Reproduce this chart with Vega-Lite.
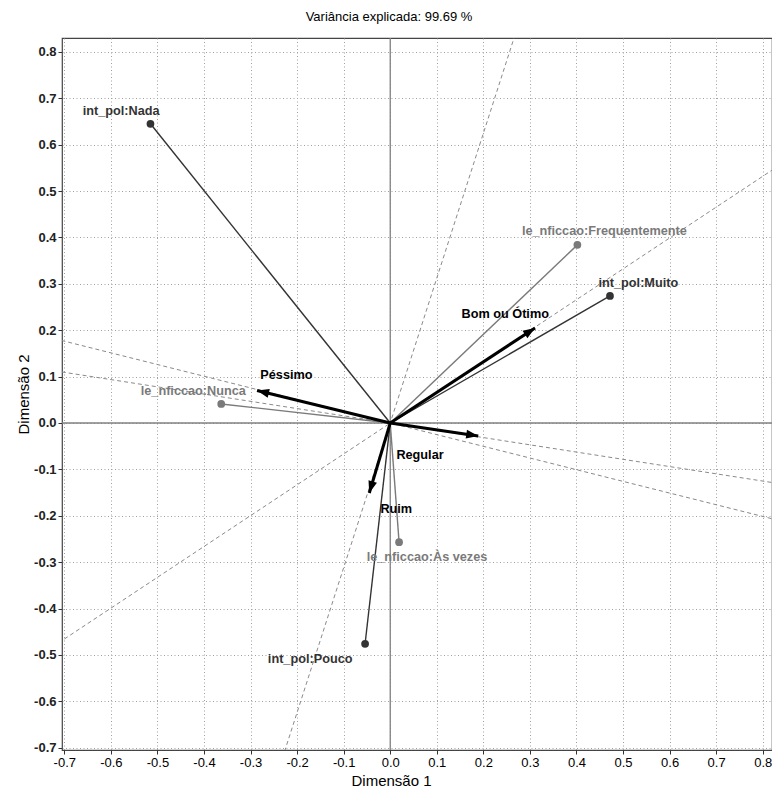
{
  "$schema": "https://vega.github.io/schema/vega-lite/v6.json",
  "width": 710,
  "height": 712,
  "autosize": {"type": "none"},
  "padding": {"left": 62, "top": 38, "right": 0, "bottom": 43},
  "background": "white",
  "title": {"text": "Variância explicada: 99.69 %", "fontSize": 13, "font": "Liberation Sans", "fontWeight": "normal", "color": "#000", "anchor": "middle", "dx": -28, "offset": 14},
  "config": {"view": {"stroke": "#444", "strokeWidth": 1.2}},
  "datasets": {
    "vars": [
      {"name": "int_pol:Nada", "group": "int_pol", "x": -0.515, "y": 0.645},
      {"name": "int_pol:Muito", "group": "int_pol", "x": 0.472, "y": 0.274},
      {"name": "int_pol:Pouco", "group": "int_pol", "x": -0.054, "y": -0.476},
      {"name": "le_nficcao:Frequentemente", "group": "le_nficcao", "x": 0.402, "y": 0.384},
      {"name": "le_nficcao:Nunca", "group": "le_nficcao", "x": -0.363, "y": 0.041},
      {"name": "le_nficcao:Às vezes", "group": "le_nficcao", "x": 0.019, "y": -0.257}
    ],
    "cats": [
      {"name": "Bom ou Ótimo", "x": 0.311, "y": 0.205},
      {"name": "Péssimo", "x": -0.286, "y": 0.070},
      {"name": "Regular", "x": 0.189, "y": -0.028},
      {"name": "Ruim", "x": -0.045, "y": -0.151}
    ],
    "labels": [
      {"text": "int_pol:Nada", "kind": "int_pol", "x": -0.578, "y": 0.673},
      {"text": "le_nficcao:Frequentemente", "kind": "le_nficcao", "x": 0.46, "y": 0.414},
      {"text": "int_pol:Muito", "kind": "int_pol", "x": 0.533, "y": 0.302},
      {"text": "le_nficcao:Nunca", "kind": "le_nficcao", "x": -0.423, "y": 0.069},
      {"text": "le_nficcao:Às vezes", "kind": "le_nficcao", "x": 0.079, "y": -0.289},
      {"text": "int_pol:Pouco", "kind": "int_pol", "x": -0.172, "y": -0.509},
      {"text": "Péssimo", "kind": "cat", "x": -0.223, "y": 0.103},
      {"text": "Bom ou Ótimo", "kind": "cat", "x": 0.247, "y": 0.235},
      {"text": "Regular", "kind": "cat", "x": 0.064, "y": -0.069},
      {"text": "Ruim", "kind": "cat", "x": 0.013, "y": -0.185}
    ],
    "dashes": [
      {"x": -0.25, "y": -0.78, "xe": 0.28, "ye": 0.874},
      {"x": -0.75, "y": -0.499, "xe": 0.85, "ye": 0.565},
      {"x": -0.75, "y": 0.189, "xe": 0.85, "ye": -0.214},
      {"x": -0.75, "y": 0.117, "xe": 0.85, "ye": -0.133}
    ],
    "zeros": [
      {"x": -0.8, "y": 0, "xe": 0.9, "ye": 0},
      {"x": 0, "y": -0.8, "xe": 0, "ye": 0.9}
    ]
  },
  "encoding": {
    "x": {"field": "x", "type": "quantitative", "scale": {"domain": [-0.705, 0.82], "nice": false, "zero": false},
      "axis": {"values": [-0.7, -0.6, -0.5, -0.4, -0.3, -0.2, -0.1, 0, 0.1, 0.2, 0.3, 0.4, 0.5, 0.6, 0.7, 0.8], "labelExpr": "replace(format(datum.value, '.1f'), '\u2212', '-')", "title": "Dimensão 1",
        "titleFontSize": 15, "titleFontWeight": "normal", "titleFont": "Liberation Sans", "titleColor": "#000", "titleX": 329, "titleAlign": "center", "titlePadding": 4,
        "labelFont": "Liberation Sans", "labelFontSize": 13, "labelColor": "#000", "labelFlush": false, "labelOverlap": false, "labelPadding": 2,
        "tickColor": "#333", "tickSize": 4, "domain": false, "grid": true, "gridDash": [1, 2.5], "gridColor": "#a0a0a0", "gridWidth": 1}},
    "y": {"field": "y", "type": "quantitative", "scale": {"domain": [-0.705, 0.83], "nice": false, "zero": false},
      "axis": {"values": [-0.7, -0.6, -0.5, -0.4, -0.3, -0.2, -0.1, 0, 0.1, 0.2, 0.3, 0.4, 0.5, 0.6, 0.7, 0.8], "labelExpr": "replace(format(datum.value, '.1f'), '\u2212', '-')", "title": "Dimensão 2",
        "titleFontSize": 15, "titleFontWeight": "normal", "titleFont": "Liberation Sans", "titleColor": "#000", "titlePadding": 2,
        "labelFont": "Liberation Sans", "labelFontSize": 13, "labelFontWeight": "bold", "labelColor": "#222", "labelFlush": false, "labelOverlap": false, "labelPadding": 2,
        "tickColor": "#333", "tickSize": 4, "domain": false, "grid": true, "gridDash": [1, 2.5], "gridColor": "#a0a0a0", "gridWidth": 1}}
  },
  "layer": [
    {
      "data": {"name": "dashes"},
      "mark": {"type": "rule", "clip": true, "color": "#8a8a8a", "strokeDash": [4, 3], "strokeWidth": 1},
      "encoding": {"x2": {"field": "xe"}, "y2": {"field": "ye"}}
    },
    {
      "data": {"name": "zeros"},
      "mark": {"type": "rule", "clip": true, "color": "#808080", "strokeWidth": 1.3},
      "encoding": {"x2": {"field": "xe"}, "y2": {"field": "ye"}}
    },
    {
      "data": {"name": "vars"},
      "mark": {"type": "rule", "strokeWidth": 1.4},
      "encoding": {
        "x2": {"datum": 0},
        "y2": {"datum": 0},
        "color": {"field": "group", "type": "nominal", "scale": {"domain": ["int_pol", "le_nficcao", "cat"], "range": ["#333333", "#7a7a7a", "#000000"]}, "legend": null}
      }
    },
    {
      "data": {"name": "vars"},
      "mark": {"type": "point", "shape": "circle", "filled": true, "size": 60, "opacity": 1},
      "encoding": {
        "color": {"field": "group", "type": "nominal", "scale": {"domain": ["int_pol", "le_nficcao", "cat"], "range": ["#333333", "#7a7a7a", "#000000"]}, "legend": null}
      }
    },
    {
      "data": {"name": "cats"},
      "mark": {"type": "rule", "strokeWidth": 3, "color": "#000"},
      "encoding": {"x2": {"datum": 0}, "y2": {"datum": 0}}
    },
    {
      "data": {"name": "cats"},
      "transform": [{"calculate": "(atan2(datum.x, datum.y) * 180 / PI + 360) % 360", "as": "ang"}],
      "mark": {"type": "point", "shape": "M0,0L1.1,3L-1.1,3Z", "filled": true, "size": 64, "color": "#000", "opacity": 1},
      "encoding": {"angle": {"field": "ang", "type": "quantitative", "scale": null}}
    },
    {
      "data": {"name": "labels"},
      "mark": {"type": "text", "font": "Liberation Sans", "fontWeight": "bold", "fontSize": 12.7, "align": "center", "baseline": "middle"},
      "encoding": {
        "text": {"field": "text"},
        "color": {"field": "kind", "type": "nominal", "scale": {"domain": ["int_pol", "le_nficcao", "cat"], "range": ["#333333", "#7a7a7a", "#000000"]}, "legend": null}
      }
    }
  ]
}
